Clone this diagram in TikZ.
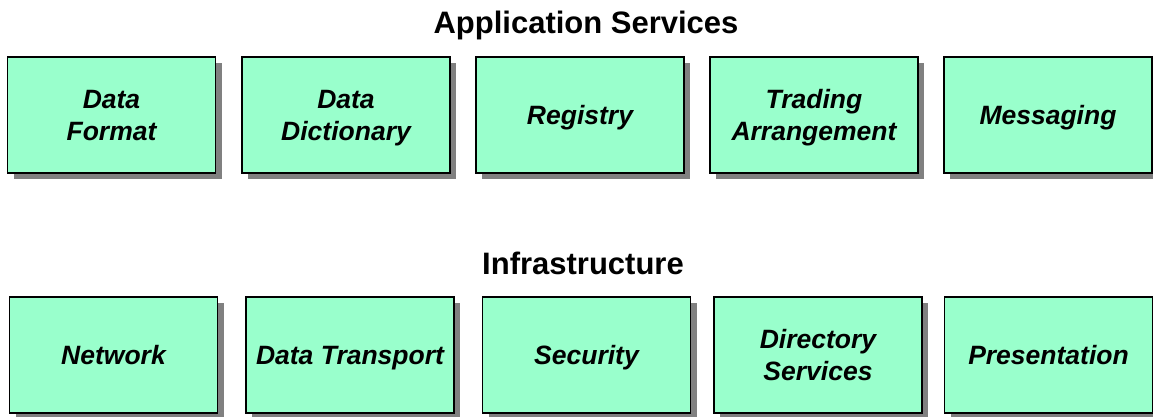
\documentclass[tikz,border=0pt]{standalone}
\usepackage{fontspec}
\setmainfont{Liberation Sans}
\usetikzlibrary{shadows}
\definecolor{boxfill}{HTML}{99FFCC}
\definecolor{shadowgray}{HTML}{808080}
\tikzset{
  svcbox/.style={draw=black, line width=1.6pt, fill=boxfill,
    minimum width=208pt, minimum height=116pt, inner sep=0pt,
    text height=18pt, text depth=0pt,
    align=center, font=\fontsize{26.5}{32}\selectfont\bfseries\itshape,
    drop shadow={shadow xshift=6pt, shadow yshift=-6pt, fill=shadowgray, opacity=1}},
  twoline/.style={text height=50pt},
  layertitle/.style={anchor=base, inner sep=0pt, font=\fontsize{31}{36}\selectfont\bfseries}
}
\begin{document}
\begin{tikzpicture}[x=1pt, y=-1pt]
  \useasboundingbox (0,0) rectangle (1153,416);
  \clip (0,0) rectangle (1153,416);
  % layer headings
  \node[layertitle] (apptitle) at (586,33) {Application Services};
  \node[layertitle] (infratitle) at (583,274) {Infrastructure};
  % application services row
  \node[svcbox, twoline] (format) at (111.5,115) {Data\\Format};
  \node[svcbox, twoline] (dict) at (346,115) {Data\\Dictionary};
  \node[svcbox] (registry) at (580,115) {Registry};
  \node[svcbox, twoline] (trading) at (814,115) {Trading\\Arrangement};
  \node[svcbox] (messaging) at (1048,115) {Messaging};
  % infrastructure row
  \node[svcbox] (network) at (113.5,355) {Network};
  \node[svcbox] (transport) at (350,355) {Data Transport};
  \node[svcbox] (security) at (586.5,355) {Security};
  \node[svcbox, twoline] (directory) at (818,355) {Directory\\Services};
  \node[svcbox] (presentation) at (1048.5,355) {Presentation};
\end{tikzpicture}
\end{document}
